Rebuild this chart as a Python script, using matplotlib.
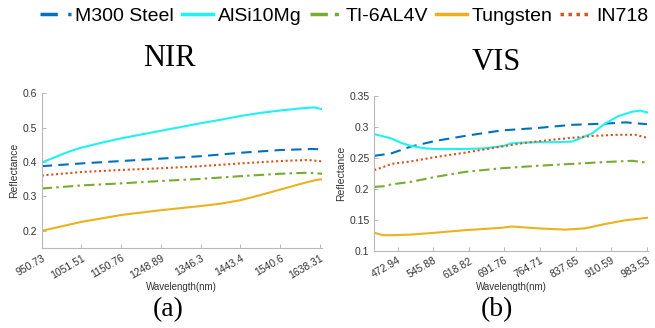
import matplotlib
matplotlib.use("Agg")
import matplotlib.pyplot as plt
from matplotlib.lines import Line2D

plt.rcParams['font.family'] = ['Liberation Sans', 'DejaVu Sans']

# ---------------- data ----------------
materials = ["M300 Steel", "AlSi10Mg", "TI-6AL4V", "Tungsten", "IN718"]
colors = ["#0072BD", "#1EF2F2", "#77AC30", "#EDB120", "#D95319"]

# NIR: x in band-tick units (tick i -> nir_tick_labels[i])
nir_tick_labels = ["950.73", "1051.51", "1150.76", "1248.89", "1346.3", "1443.4", "1540.6", "1638.31"]
nir_m300_x = [0, 1, 2, 3, 4, 5, 6, 6.8, 7.05]
nir_m300_y = [0.388, 0.396, 0.403, 0.410, 0.417, 0.427, 0.435, 0.438, 0.437]
nir_alsi_x = [0, 0.25, 0.5, 0.75, 1, 1.5, 2, 2.5, 3, 3.5, 4, 4.5, 5, 5.5, 6, 6.5, 6.85, 7.05]
nir_alsi_y = [0.399, 0.410, 0.422, 0.433, 0.442, 0.456, 0.469, 0.480, 0.491, 0.502, 0.513,
              0.523, 0.534, 0.543, 0.550, 0.556, 0.559, 0.554]
nir_ti_x = [0, 1, 2, 3, 4, 5, 6, 6.7, 7.05]
nir_ti_y = [0.323, 0.332, 0.338, 0.345, 0.351, 0.359, 0.366, 0.369, 0.366]
nir_w_x = [0, 1, 2, 3, 4, 4.5, 5, 5.5, 6, 6.5, 6.9, 7.05]
nir_w_y = [0.200, 0.226, 0.246, 0.260, 0.272, 0.279, 0.289, 0.304, 0.320, 0.336, 0.348, 0.350]
nir_in_x = [0, 1, 2, 3, 4, 5, 6, 6.7, 7.05]
nir_in_y = [0.361, 0.371, 0.377, 0.382, 0.388, 0.396, 0.403, 0.406, 0.402]

# VIS: x in wavelength (nm)
vis_ticks = [472.94, 545.88, 618.82, 691.76, 764.71, 837.65, 910.59, 983.53]
vis_m300_x = [425, 460, 500, 550, 610, 686, 761, 830, 898, 940, 984]
vis_m300_y = [0.253, 0.257, 0.268, 0.277, 0.285, 0.294, 0.298, 0.303, 0.305, 0.307, 0.304]
vis_alsi_x = [425, 445, 460, 480, 500, 530, 550, 580, 610, 650, 690, 705, 720, 760, 800,
              830, 843, 871, 898, 925, 953, 970, 984]
vis_alsi_y = [0.288, 0.284, 0.281, 0.274, 0.269, 0.265, 0.264, 0.264, 0.264, 0.265, 0.269,
              0.273, 0.274, 0.275, 0.275, 0.276, 0.280, 0.289, 0.305, 0.317, 0.324, 0.326, 0.323]
vis_ti_x = [425, 447, 460, 500, 550, 610, 686, 761, 830, 898, 953, 984]
vis_ti_y = [0.203, 0.204, 0.207, 0.211, 0.219, 0.227, 0.233, 0.237, 0.240, 0.243, 0.245, 0.242]
vis_w_x = [425, 443, 460, 500, 550, 610, 686, 707, 761, 816, 857, 898, 939, 984]
vis_w_y = [0.129, 0.125, 0.125, 0.126, 0.129, 0.133, 0.137, 0.139, 0.136, 0.134, 0.136,
           0.143, 0.149, 0.153]
vis_in_x = [425, 440, 460, 500, 550, 610, 686, 734, 802, 871, 925, 960, 984]
vis_in_y = [0.230, 0.234, 0.240, 0.244, 0.251, 0.258, 0.268, 0.274, 0.280, 0.285, 0.287,
            0.287, 0.282]

nir_series = [(nir_m300_x, nir_m300_y), (nir_alsi_x, nir_alsi_y), (nir_ti_x, nir_ti_y),
              (nir_w_x, nir_w_y), (nir_in_x, nir_in_y)]
vis_series = [(vis_m300_x, vis_m300_y), (vis_alsi_x, vis_alsi_y), (vis_ti_x, vis_ti_y),
              (vis_w_x, vis_w_y), (vis_in_x, vis_in_y)]

# ---------------- styles ----------------
lw = 1.5
styles = [
    dict(linestyle=(0, (5, 3))),
    dict(linestyle='-'),
    dict(linestyle=(0, (5, 2, 1.2, 2))),
    dict(linestyle='-'),
    dict(linestyle=(0, (1, 1.3))),
]

fig = plt.figure(figsize=(6.55, 3.28), dpi=100)
W, H = 655, 328

def px_axes(x0, x1, y_top, y_bot):
    return fig.add_axes([x0 / W, 1 - y_bot / H, (x1 - x0) / W, (y_bot - y_top) / H])

ax1 = px_axes(41.7, 322, 93.3, 248)
ax2 = px_axes(374.3, 648, 95.7, 250.7)

spine_col = "#b8b8b8"
text_col = "#333333"

for ax, series in ((ax1, nir_series), (ax2, vis_series)):
    for (xs, ys), c, st in zip(series, colors, styles):
        ax.plot(xs, ys, color=c, lw=lw, **st)
    for s in ("top", "right"):
        ax.spines[s].set_visible(False)
    for s in ("left", "bottom"):
        ax.spines[s].set_color(spine_col)
        ax.spines[s].set_linewidth(0.8)
    ax.tick_params(direction='in', length=3, width=0.7, color=spine_col,
                   labelsize=7.5, labelcolor=text_col)
    ax.set_ylabel("Reflectance", fontsize=7.5, color=text_col, labelpad=2)
    ax.set_xlabel("Wavelength(nm)", fontsize=7, color=text_col, labelpad=1)

ax1.set_xlim(0, 7.05)
ax1.set_ylim(0.15, 0.6)
ax1.set_xticks(range(len(nir_tick_labels)))
ax1.set_xticklabels(nir_tick_labels, rotation=30, ha='right', rotation_mode='anchor')
ax1.set_yticks([0.2, 0.3, 0.4, 0.5, 0.6])
ax1.set_yticklabels(["0.2", "0.3", "0.4", "0.5", "0.6"])

ax2.set_xlim(425, 986)
ax2.set_ylim(0.1, 0.35)
ax2.set_xticks(vis_ticks)
ax2.set_xticklabels([f"{v:.2f}" for v in vis_ticks], rotation=30, ha='right',
                    rotation_mode='anchor')
ax2.set_yticks([0.1, 0.15, 0.2, 0.25, 0.3, 0.35])
ax2.set_yticklabels(["0.1", "0.15", "0.2", "0.25", "0.3", "0.35"])

# titles and panel labels
serif = ['Liberation Serif', 'DejaVu Serif']
fig.text(169 / W, 1 - 58 / H, "NIR", family=serif, fontsize=22, ha='center', va='center')
fig.text(496 / W, 1 - 63 / H, "VIS", family=serif, fontsize=22, ha='center', va='center')
fig.text(168 / W, 1 - 310 / H, "(a)", family=serif, fontsize=20, ha='center', va='center')
fig.text(497 / W, 1 - 310 / H, "(b)", family=serif, fontsize=20, ha='center', va='center')

# legend
handles = [Line2D([], [], color=c, lw=2.5, **st) for c, st in zip(colors, styles)]
fig.legend(handles, materials, loc='center', bbox_to_anchor=(344 / W, 1 - 16 / H),
           ncol=5, frameon=False, fontsize=14, handlelength=1.6, handletextpad=0.25,
           columnspacing=0.4, borderaxespad=0)

fig.savefig("out.png", dpi=100)
